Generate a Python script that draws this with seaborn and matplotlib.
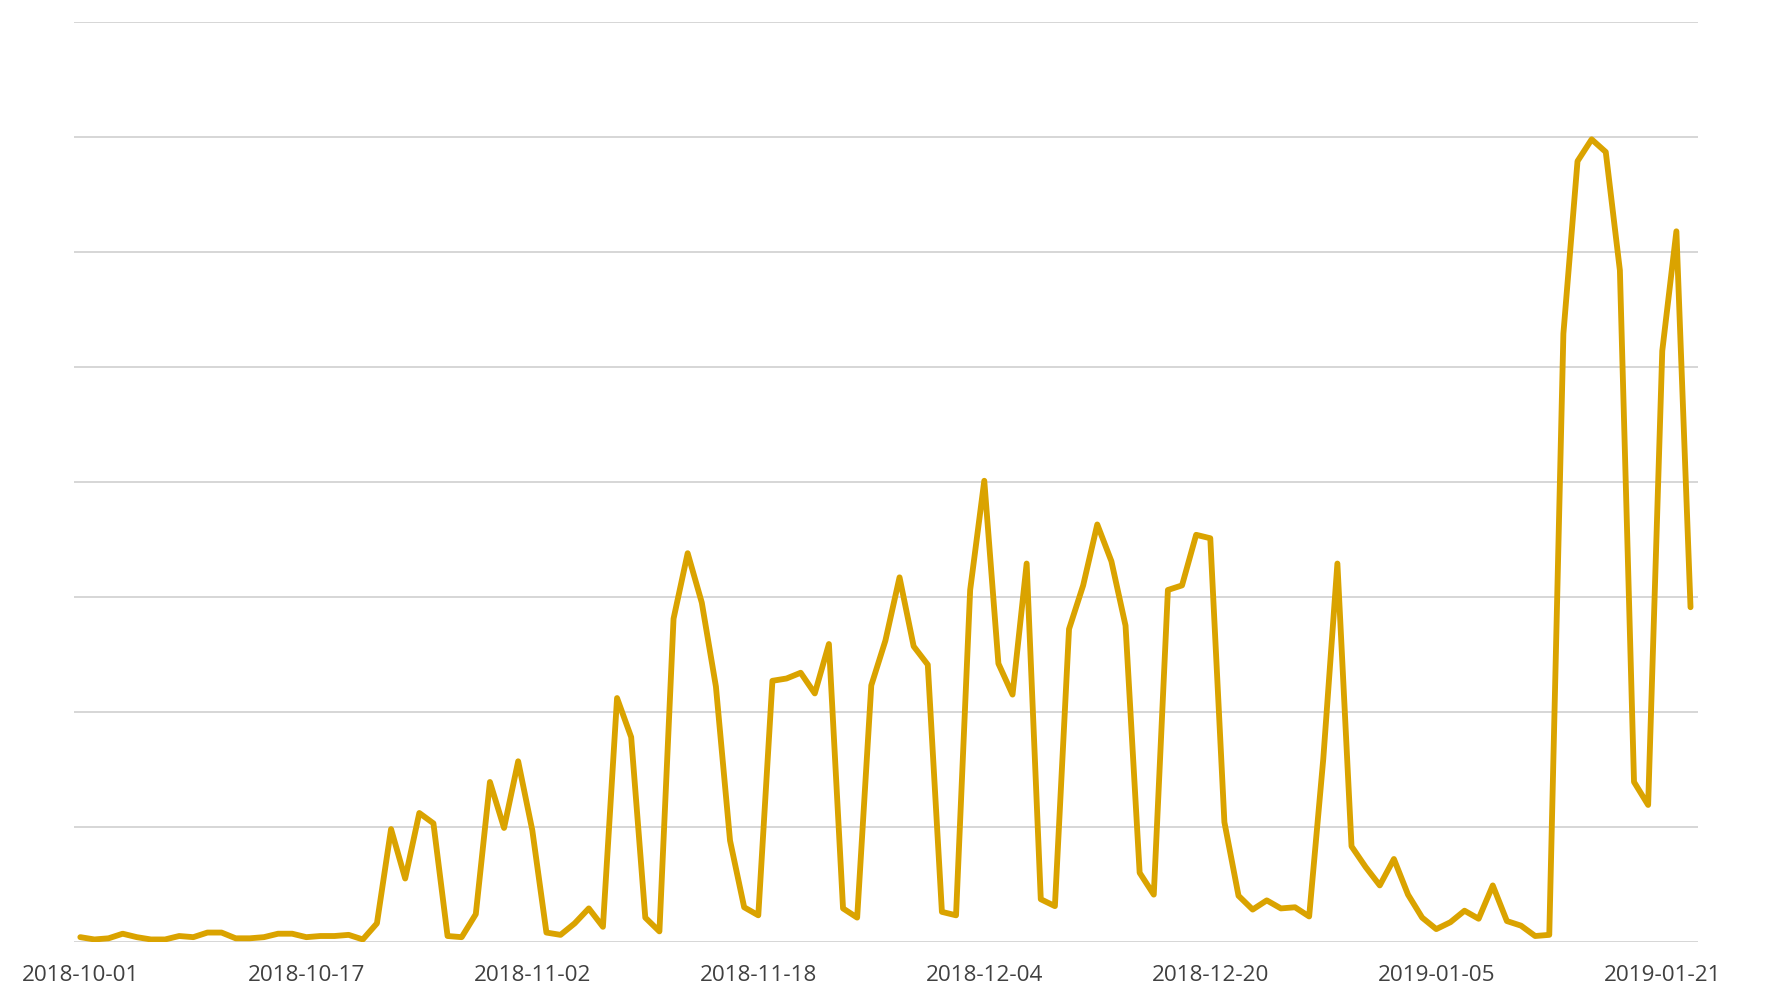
import pandas as pd
import numpy as np
import matplotlib
matplotlib.use("Agg")
import matplotlib.pyplot as plt
import matplotlib.dates as mdates
import seaborn as sns

start_date = "2018-10-01"
values = [0.04, 0.02, 0.03, 0.07, 0.04, 0.02, 0.02, 0.05, 0.04, 0.08,
          0.08, 0.03, 0.03, 0.04, 0.07, 0.07, 0.04, 0.05, 0.05, 0.06,
          0.02, 0.16, 0.98, 0.55, 1.12, 1.03, 0.05, 0.04, 0.24, 1.39,
          0.99, 1.57, 0.97, 0.08, 0.06, 0.16, 0.29, 0.13, 2.12, 1.78,
          0.21, 0.09, 2.81, 3.38, 2.95, 2.22, 0.88, 0.30, 0.23, 2.27,
          2.29, 2.34, 2.16, 2.59, 0.29, 0.21, 2.23, 2.62, 3.17, 2.57,
          2.41, 0.26, 0.23, 3.06, 4.01, 2.42, 2.15, 3.29, 0.37, 0.31,
          2.72, 3.10, 3.63, 3.31, 2.75, 0.60, 0.41, 3.06, 3.10, 3.54,
          3.51, 1.04, 0.40, 0.28, 0.36, 0.29, 0.30, 0.22, 1.59, 3.29,
          0.83, 0.65, 0.49, 0.72, 0.41, 0.21, 0.11, 0.17, 0.27, 0.20,
          0.49, 0.18, 0.14, 0.05, 0.06, 5.29, 6.79, 6.98, 6.87, 5.84,
          1.39, 1.19, 5.14, 6.18, 2.91]
tick_labels = ["2018-10-01", "2018-10-17", "2018-11-02", "2018-11-18",
               "2018-12-04", "2018-12-20", "2019-01-05", "2019-01-21"]

df = pd.DataFrame({"date": pd.date_range(start_date, periods=len(values), freq="D"),
                   "value": values})

sns.set_style("white")
plt.rcParams['font.family'] = ['Open Sans', 'DejaVu Sans']

fig = plt.figure(figsize=(17.72, 10.04), dpi=100)
ax = fig.add_axes([0.042, 0.061, 0.916, 0.916])
sns.lineplot(data=df, x="date", y="value", color="#DAA300", linewidth=4.2, ax=ax)

ax.set_ylim(0, 8)
ax.set_yticks(np.arange(0, 9, 1))
ax.set_yticklabels([])
ax.set_xlim(df["date"].iloc[0] - pd.Timedelta(hours=10),
            df["date"].iloc[-1] + pd.Timedelta(hours=12))
ax.set_xticks(pd.to_datetime(tick_labels))
ax.xaxis.set_major_formatter(mdates.DateFormatter("%Y-%m-%d"))
ax.tick_params(axis="x", length=0, pad=16, labelsize=16.2, colors="#404040")
ax.tick_params(axis="y", length=0)
ax.grid(axis="y", color="#D3D3D3", linewidth=1.3)
ax.set_axisbelow(True)
for s in ax.spines.values():
    s.set_visible(False)
ax.set_xlabel("")
ax.set_ylabel("")

fig.savefig("out.png", dpi=100)
